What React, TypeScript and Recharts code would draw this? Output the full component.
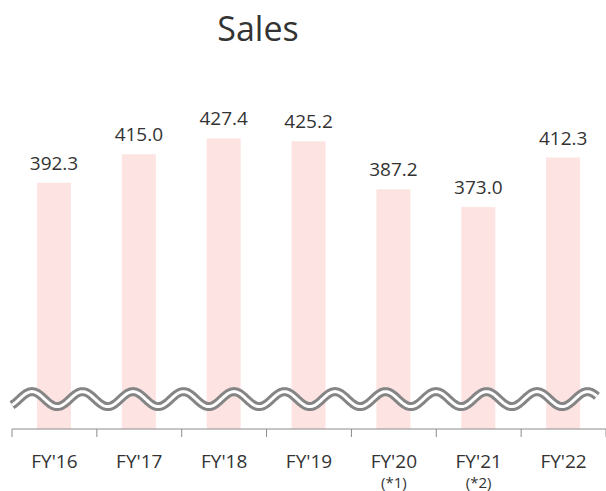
import { BarChart, Bar, XAxis, YAxis, LabelList, ReferenceLine } from "recharts";

const years = ["FY'16", "FY'17", "FY'18", "FY'19", "FY'20", "FY'21", "FY'22"];
const notes = ["", "", "", "", "(*1)", "(*2)", ""];
const sales = [392.3, 415.0, 427.4, 425.2, 387.2, 373.0, 412.3];
const breakValue = 220.7;

const data = years.map((name, i) => ({ name, note: notes[i], sales: sales[i] }));

const FONT = "'Open Sans', 'Noto Sans', sans-serif";
const TEXT = "#333333";
const AXIS = "#8c8c8c";

// wavy "axis break" drawn where the reference line sits
function BreakWave(props: any) {
  const { x1, x2, y1 } = props;
  const end = x2 - 9;
  const period = 50.5;
  const amp = 7.5;
  let d = "";
  for (let x = x1; x <= end; x += 1) {
    const y = y1 - amp * Math.cos((2 * Math.PI * (x - 32)) / period);
    d += (x === x1 ? "M" : "L") + x.toFixed(1) + "," + y.toFixed(2);
  }
  return (
    <g>
      <path d={d} fill="none" stroke="#858585" strokeWidth={9} />
      <path d={d} fill="none" stroke="#ffffff" strokeWidth={3} />
    </g>
  );
}

// category label plus tick marks between categories
function YearTick(props: any) {
  const { x, y, payload, index, width, visibleTicksCount } = props;
  const half = payload.offset ?? width / visibleTicksCount / 2;
  const note = notes[index];
  const last = index === years.length - 1;
  return (
    <g>
      <line x1={x - half} x2={x - half} y1={y} y2={y + 8} stroke={AXIS} />
      {last ? <line x1={x + half} x2={x + half} y1={y} y2={y + 8} stroke={AXIS} /> : null}
      <text x={x} y={y + 39} textAnchor="middle" fontSize={19} fill={TEXT} fontFamily={FONT}>
        {payload.value}
      </text>
      {note ? (
        <text x={x} y={y + 59} textAnchor="middle" fontSize={15} fill={TEXT} fontFamily={FONT}>
          {note}
        </text>
      ) : null}
    </g>
  );
}

export default function App() {
  return (
    <div style={{ position: "absolute", left: 0, top: 0, width: 606, height: 491, background: "#fff" }}>
      <svg width={606} height={60} style={{ position: "absolute", left: 0, top: 0 }}>
        <text x={258} y={41} textAnchor="middle" fontSize={34} fill={TEXT} fontFamily={FONT}>
          Sales
        </text>
      </svg>
      <BarChart
        width={606}
        height={491}
        data={data}
        margin={{ top: 110, right: 0, left: 12, bottom: 0 }}
        style={{ position: "absolute", left: 0, top: 0 }}
      >
        <XAxis
          dataKey="name"
          stroke={AXIS}
          tickLine={false}
          tickSize={0}
          tickMargin={0}
          height={62}
          interval={0}
          tick={<YearTick />}
        />
        <YAxis hide domain={[197, 450]} allowDataOverflow />
        <Bar dataKey="sales" fill="#fde4e2" barSize={34} isAnimationActive={false}>
          <LabelList
            dataKey="sales"
            position="top"
            offset={13}
            formatter={(v: any) => Number(v).toFixed(1)}
            style={{ fontSize: 19, fill: TEXT, fontFamily: FONT }}
          />
        </Bar>
        <ReferenceLine y={breakValue} shape={<BreakWave />} ifOverflow="visible" />
      </BarChart>
    </div>
  );
}
